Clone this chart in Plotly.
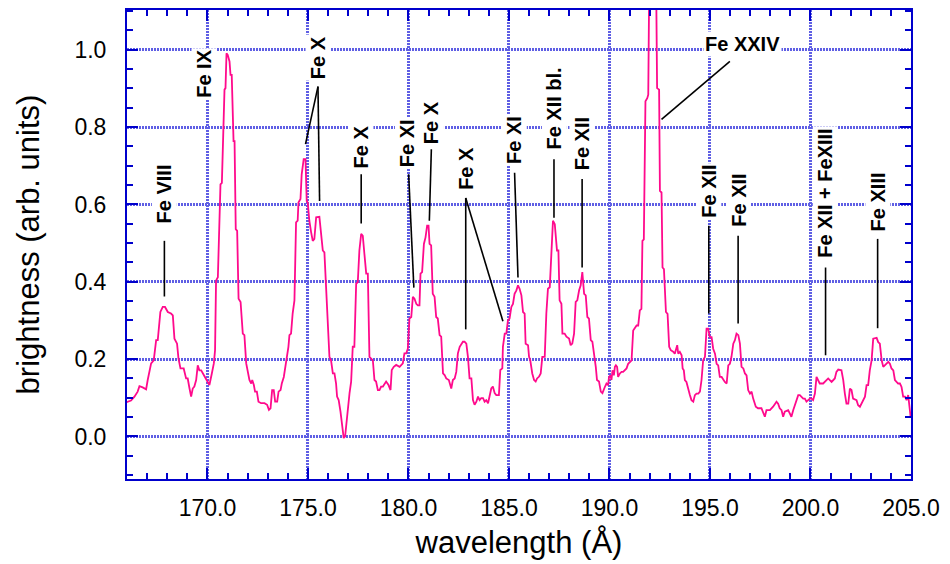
import plotly.graph_objects as go

# Measured EUV spectrum: wavelength (Angstrom) and brightness (arbitrary units)
wavelength = [
    166.00, 166.04, 166.20, 166.37, 166.53, 166.62, 166.78, 166.95, 167.03, 167.11,
    167.20, 167.33, 167.45, 167.53, 167.61, 167.66, 167.78, 167.89, 168.03, 168.19,
    168.28, 168.36, 168.49, 168.56, 168.66, 168.82, 168.94, 169.02, 169.11, 169.19,
    169.27, 169.35, 169.44, 169.52, 169.60, 169.69, 169.82, 169.94, 170.10, 170.22,
    170.32, 170.38, 170.43, 170.52, 170.60, 170.65, 170.72, 170.80, 170.85, 170.90,
    170.95, 171.01, 171.10, 171.15, 171.21, 171.30, 171.35, 171.41, 171.48, 171.55,
    171.65, 171.76, 171.84, 171.93, 172.09, 172.18, 172.23, 172.31, 172.37, 172.46,
    172.54, 172.67, 172.84, 172.97, 173.06, 173.14, 173.22, 173.30, 173.37, 173.47,
    173.54, 173.64, 173.70, 173.80, 173.92,
    174.03, 174.08, 174.16, 174.24, 174.33, 174.41, 174.49, 174.53, 174.63, 174.69,
    174.79, 174.88, 174.94, 174.99, 175.07, 175.16, 175.24, 175.32, 175.41, 175.57,
    175.66, 175.74, 175.82, 175.90, 175.99, 176.07, 176.15, 176.24, 176.32, 176.40,
    176.45, 176.53, 176.62, 176.68, 176.73, 176.78, 176.85, 176.90, 176.98, 177.07,
    177.15, 177.23, 177.31, 177.40, 177.48, 177.56, 177.65, 177.73, 177.81, 177.90,
    177.98, 178.06, 178.23, 178.31, 178.39, 178.48, 178.56, 178.64, 178.73, 178.81,
    178.89, 179.01, 179.11, 179.17, 179.27, 179.39, 179.56, 179.72, 179.80, 179.89,
    179.97, 180.05, 180.14, 180.22, 180.30, 180.39, 180.47, 180.55, 180.60, 180.68,
    180.77, 180.85, 180.93, 181.00, 181.05, 181.13, 181.21, 181.30, 181.38, 181.46,
    181.55, 181.63,
    181.72, 181.80, 181.88, 182.01, 182.13, 182.21, 182.30, 182.38, 182.46, 182.55,
    182.63, 182.71, 182.79, 182.88, 182.96, 183.04, 183.13, 183.21, 183.29, 183.38,
    183.46, 183.54, 183.62, 183.71, 183.79, 183.87, 183.96, 184.04, 184.12, 184.20,
    184.29, 184.37, 184.50, 184.57, 184.67, 184.70, 184.79, 184.87, 184.95, 185.03,
    185.12, 185.20, 185.28, 185.37, 185.45, 185.53, 185.62, 185.70, 185.78, 185.83,
    185.95, 186.00, 186.06, 186.16, 186.25, 186.33, 186.40, 186.50, 186.58, 186.66,
    186.78, 186.86, 186.94, 187.03, 187.11, 187.19, 187.28, 187.33, 187.39, 187.46,
    187.52, 187.61, 187.66, 187.77, 187.86, 187.99, 188.07, 188.15, 188.24, 188.32,
    188.40, 188.49, 188.57, 188.65, 188.74, 188.82, 188.90, 188.98, 189.07, 189.15,
    189.22, 189.32, 189.38, 189.48, 189.57, 189.65,
    189.77, 189.85, 189.93, 189.98, 190.05, 190.10, 190.15, 190.22, 190.27, 190.32,
    190.38, 190.43, 190.52, 190.60, 190.68, 190.76, 190.85, 190.93, 191.01, 191.10,
    191.18, 191.26, 191.35, 191.43, 191.51, 191.59, 191.64, 191.71, 191.79, 191.88,
    191.93, 192.00, 192.15, 192.30, 192.37, 192.47, 192.51, 192.59, 192.64, 192.71,
    192.81, 192.89, 192.97, 193.05, 193.17, 193.25, 193.37, 193.42, 193.50, 193.59,
    193.64, 193.70, 193.75, 193.83, 193.92, 194.00, 194.08, 194.17, 194.25, 194.33,
    194.42, 194.50, 194.58, 194.66, 194.75, 194.83, 194.91, 194.99, 195.08, 195.16,
    195.25, 195.33, 195.41, 195.49, 195.58, 195.66, 195.74, 195.83, 195.91, 195.99,
    196.07, 196.16, 196.24, 196.32, 196.41, 196.49, 196.57, 196.66, 196.74, 196.82,
    196.90, 196.99, 197.07,
    197.15, 197.28, 197.39, 197.56, 197.73, 197.81, 197.98, 198.14, 198.31, 198.39,
    198.47, 198.56, 198.64, 198.72, 198.89, 198.97, 199.05, 199.14, 199.22, 199.30,
    199.39, 199.47, 199.64, 199.72, 199.80, 199.97, 200.05, 200.13, 200.22, 200.30,
    200.38, 200.46, 200.63, 200.80, 200.88, 201.05, 201.13, 201.21, 201.29, 201.38,
    201.54, 201.63, 201.71, 201.79, 201.88, 201.96, 202.04, 202.12, 202.29, 202.37,
    202.46, 202.54, 202.62, 202.71, 202.79, 202.87, 202.95, 203.04, 203.09, 203.12,
    203.29, 203.37, 203.45, 203.54, 203.62, 203.70, 203.78, 203.87, 203.95, 204.03,
    204.12, 204.20, 204.36, 204.45, 204.53, 204.61, 204.70, 204.78, 204.86, 204.91,
    204.98,
]

brightness = [
    0.088, 0.090, 0.093, 0.103, 0.116, 0.130, 0.127, 0.122, 0.146, 0.163,
    0.189, 0.197, 0.249, 0.249, 0.300, 0.322, 0.335, 0.335, 0.322, 0.318,
    0.313, 0.253, 0.240, 0.202, 0.176, 0.176, 0.150, 0.150, 0.124, 0.103,
    0.124, 0.129, 0.146, 0.184, 0.171, 0.171, 0.159, 0.146, 0.133, 0.163,
    0.189, 0.223, 0.403, 0.412, 0.532, 0.652, 0.656, 0.789, 0.897, 0.901,
    0.991, 0.987, 0.970, 0.935, 0.935, 0.764, 0.764, 0.536, 0.532, 0.356,
    0.348, 0.266, 0.262, 0.189, 0.146, 0.137, 0.146, 0.133, 0.116, 0.116,
    0.090, 0.086, 0.086, 0.082, 0.069, 0.073, 0.120, 0.120, 0.090, 0.090,
    0.116, 0.120, 0.137, 0.154, 0.189,
    0.232, 0.262, 0.266, 0.318, 0.352, 0.554, 0.558, 0.605, 0.614, 0.678,
    0.717, 0.717, 0.609, 0.605, 0.558, 0.528, 0.506, 0.511, 0.567, 0.568,
    0.524, 0.481, 0.476, 0.386, 0.318, 0.206, 0.197, 0.163, 0.163, 0.137,
    0.103, 0.094, 0.064, 0.039, 0.030, -0.004, 0.000, 0.030, 0.060, 0.112,
    0.142, 0.232, 0.232, 0.395, 0.399, 0.481, 0.524, 0.519, 0.472, 0.421,
    0.421, 0.206, 0.197, 0.146, 0.142, 0.120, 0.120, 0.129, 0.129, 0.137,
    0.142, 0.133, 0.120, 0.172, 0.180, 0.185, 0.180, 0.189, 0.215, 0.215,
    0.227, 0.305, 0.309, 0.361, 0.356, 0.343, 0.339, 0.339, 0.421, 0.425,
    0.498, 0.515, 0.545, 0.545, 0.498, 0.494, 0.369, 0.361, 0.309, 0.305,
    0.262, 0.258,
    0.163, 0.159, 0.150, 0.146, 0.124, 0.146, 0.150, 0.167, 0.215, 0.232,
    0.240, 0.245, 0.245, 0.240, 0.206, 0.150, 0.150, 0.094, 0.082, 0.090,
    0.103, 0.094, 0.099, 0.099, 0.090, 0.094, 0.086, 0.107, 0.124, 0.129,
    0.112, 0.107, 0.107, 0.172, 0.176, 0.232, 0.266, 0.266, 0.300, 0.305,
    0.335, 0.343, 0.369, 0.378, 0.391, 0.382, 0.365, 0.322, 0.318, 0.240,
    0.236, 0.206, 0.197, 0.163, 0.146, 0.142, 0.150, 0.155, 0.163, 0.206,
    0.206, 0.318, 0.382, 0.386, 0.489, 0.558, 0.549, 0.524, 0.481, 0.481,
    0.352, 0.343, 0.266, 0.266, 0.258, 0.253, 0.236, 0.240, 0.266, 0.348,
    0.352, 0.378, 0.391, 0.425, 0.369, 0.365, 0.309, 0.305, 0.249, 0.245,
    0.223, 0.180, 0.146, 0.142, 0.116, 0.112,
    0.128, 0.137, 0.133, 0.154, 0.158, 0.146, 0.171, 0.158, 0.180, 0.184,
    0.180, 0.154, 0.163, 0.167, 0.167, 0.171, 0.176, 0.188, 0.193, 0.197,
    0.274, 0.279, 0.287, 0.287, 0.326, 0.330, 0.506, 0.510, 0.867, 0.875,
    0.884, 1.300, 1.380, 1.300, 0.901, 0.897, 0.635, 0.631, 0.437, 0.433,
    0.322, 0.317, 0.232, 0.223, 0.219, 0.214, 0.236, 0.214, 0.219, 0.210,
    0.176, 0.171, 0.146, 0.141, 0.120, 0.107, 0.094, 0.090, 0.107, 0.111,
    0.111, 0.116, 0.146, 0.197, 0.206, 0.279, 0.279, 0.257, 0.257, 0.227,
    0.214, 0.188, 0.184, 0.154, 0.154, 0.146, 0.141, 0.137, 0.184, 0.188,
    0.206, 0.240, 0.249, 0.266, 0.262, 0.240, 0.180, 0.176, 0.163, 0.158,
    0.120, 0.111, 0.116,
    0.098, 0.077, 0.073, 0.073, 0.051, 0.068, 0.068, 0.077, 0.090, 0.085,
    0.073, 0.068, 0.051, 0.064, 0.068, 0.060, 0.051, 0.068, 0.081, 0.094,
    0.107, 0.107, 0.098, 0.098, 0.090, 0.098, 0.098, 0.094, 0.111, 0.154,
    0.146, 0.137, 0.137, 0.146, 0.150, 0.141, 0.146, 0.150, 0.167, 0.173,
    0.171, 0.146, 0.111, 0.085, 0.085, 0.124, 0.120, 0.098, 0.094, 0.081,
    0.077, 0.085, 0.094, 0.103, 0.133, 0.133, 0.171, 0.197, 0.231, 0.253,
    0.255, 0.244, 0.240, 0.197, 0.180, 0.184, 0.188, 0.193, 0.188, 0.176,
    0.171, 0.146, 0.137, 0.137, 0.128, 0.103, 0.103, 0.094, 0.107, 0.085,
    0.051,
]

# Line identifications: text, position of the label centre, rotation
line_ids = [
    ("Fe VIII", 167.86, 0.627, -90),
    ("Fe IX", 169.85, 0.939, -90),
    ("Fe X", 175.48, 0.980, -90),
    ("Fe X", 177.65, 0.748, -90),
    ("Fe XI", 179.97, 0.758, -90),
    ("Fe X", 181.14, 0.811, -90),
    ("Fe X", 182.85, 0.694, -90),
    ("Fe XI", 185.28, 0.766, -90),
    ("Fe XII bl.", 187.24, 0.848, -90),
    ("Fe XII", 188.64, 0.756, -90),
    ("Fe XXIV", 196.64, 1.016, 0),
    ("Fe XII", 194.94, 0.635, -90),
    ("Fe XII", 196.40, 0.610, -90),
    ("Fe XII + FeXIII", 200.75, 0.629, -90),
    ("Fe XIII", 203.34, 0.607, -90),
]

# Leader lines from labels to the spectral features: (x0, y0, x1, y1)
leaders = [
    (167.86, 0.506, 167.86, 0.362),
    (175.50, 0.905, 174.88, 0.756),
    (175.50, 0.905, 175.58, 0.609),
    (177.65, 0.678, 177.65, 0.551),
    (180.01, 0.678, 180.27, 0.385),
    (181.14, 0.743, 181.04, 0.558),
    (182.85, 0.617, 182.85, 0.277),
    (182.85, 0.617, 184.70, 0.298),
    (185.28, 0.682, 185.45, 0.411),
    (187.24, 0.717, 187.24, 0.566),
    (188.64, 0.666, 188.64, 0.437),
    (195.99, 0.970, 192.59, 0.820),
    (194.94, 0.545, 194.94, 0.318),
    (196.40, 0.519, 196.40, 0.292),
    (200.75, 0.437, 200.75, 0.210),
    (203.34, 0.511, 203.34, 0.280),
]

FONT = "Liberation Sans, Arial, sans-serif"
AXIS_BLUE = "#0000cc"
GRID_BLUE = "rgb(95,95,228)"

fig = go.Figure()
fig.add_trace(go.Scatter(
    x=wavelength, y=brightness, mode="lines",
    line=dict(color="#ff0a8c", width=1.8),
    showlegend=False, hoverinfo="x+y",
))

for x0, y0, x1, y1 in leaders:
    fig.add_shape(type="line", x0=x0, y0=y0, x1=x1, y1=y1,
                  xref="x", yref="y", line=dict(color="black", width=1.6))

for text, x, y, ang in line_ids:
    fig.add_annotation(
        x=x, y=y, xref="x", yref="y", text=f"<b>{text}</b>",
        textangle=ang, showarrow=False, xanchor="center", yanchor="middle",
        font=dict(family=FONT, size=20, color="black"),
        bgcolor="white", borderpad=1,
    )

axis_common = dict(
    showline=True, linecolor=AXIS_BLUE, linewidth=2, mirror="allticks",
    ticks="inside", ticklen=11, tickwidth=2, tickcolor=AXIS_BLUE,
    showgrid=True, gridcolor=GRID_BLUE, gridwidth=2.5, griddash="2px,1px",
    zeroline=False, tickformat=".1f",
    tickfont=dict(family=FONT, size=23, color="black"),
)

fig.update_xaxes(
    **axis_common, range=[166, 205], tick0=170, dtick=5,
    minor=dict(dtick=1, ticks="inside", ticklen=6, tickwidth=1.5,
               tickcolor=AXIS_BLUE, showgrid=False),
    ticklabelstandoff=7,
    title=dict(text="wavelength (Å)", font=dict(family=FONT, size=31, color="black"),
               standoff=12),
)
fig.update_yaxes(
    **axis_common, range=[-0.11, 1.103], tick0=0, dtick=0.2,
    minor=dict(dtick=0.05, ticks="inside", ticklen=6, tickwidth=1.5,
               tickcolor=AXIS_BLUE, showgrid=False),
    ticklabelstandoff=14,
    title=dict(text="brightness (arb. units)", font=dict(family=FONT, size=31, color="black"),
               standoff=26),
)

fig.update_layout(
    width=950, height=564, autosize=False,
    margin=dict(l=127, r=39, t=8, b=85),
    paper_bgcolor="white", plot_bgcolor="white",
    font=dict(family=FONT),
)

fig.write_html("out.html")
